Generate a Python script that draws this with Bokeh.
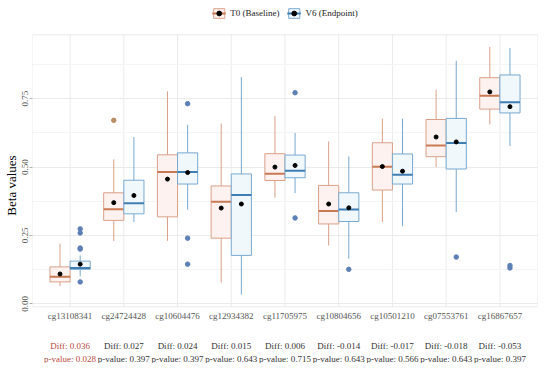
from bokeh.plotting import figure
from bokeh.models import (ColumnDataSource, FactorRange, Range1d, FixedTicker,
                          Legend, LegendItem, NumeralTickFormatter, BoxAnnotation, LabelSet)
from bokeh.transform import dodge
from bokeh.embed import file_html
from bokeh.resources import INLINE

cats = ["cg13108341", "cg24724428", "cg10604476", "cg12934382", "cg11705975",
        "cg10804656", "cg10501210", "cg07553761", "cg16867657"]

# T0 (Baseline)
t0_lo   = [0.065, 0.230, 0.230, 0.077, 0.388, 0.213, 0.299, 0.500, 0.656]
t0_q1   = [0.080, 0.305, 0.318, 0.240, 0.451, 0.292, 0.416, 0.538, 0.712]
t0_med  = [0.099, 0.346, 0.482, 0.373, 0.476, 0.339, 0.501, 0.579, 0.761]
t0_q3   = [0.135, 0.406, 0.545, 0.431, 0.549, 0.433, 0.589, 0.674, 0.827]
t0_hi   = [0.220, 0.528, 0.777, 0.659, 0.687, 0.594, 0.677, 0.783, 0.939]
t0_mean = [0.109, 0.370, 0.456, 0.350, 0.500, 0.365, 0.502, 0.610, 0.775]
t0_out_cat = ["cg24724428"]
t0_out_val = [0.671]

# V6 (Endpoint)
v6_lo   = [0.101, 0.299, 0.344, 0.034, 0.405, 0.165, 0.284, 0.335, 0.577]
v6_q1   = [0.126, 0.329, 0.438, 0.177, 0.461, 0.301, 0.438, 0.493, 0.698]
v6_med  = [0.131, 0.368, 0.482, 0.398, 0.487, 0.345, 0.472, 0.588, 0.737]
v6_q3   = [0.156, 0.452, 0.552, 0.475, 0.544, 0.406, 0.548, 0.678, 0.837]
v6_hi   = [0.177, 0.610, 0.655, 0.829, 0.625, 0.539, 0.677, 0.889, 0.936]
v6_mean = [0.145, 0.396, 0.480, 0.365, 0.506, 0.351, 0.485, 0.592, 0.721]
v6_out_cat = ["cg13108341", "cg13108341", "cg13108341", "cg13108341", "cg13108341",
              "cg10604476", "cg10604476", "cg10604476",
              "cg11705975", "cg11705975", "cg10804656", "cg07553761",
              "cg16867657", "cg16867657"]
v6_out_val = [0.274, 0.259, 0.204, 0.200, 0.080,
              0.732, 0.240, 0.145,
              0.772, 0.314, 0.126, 0.171,
              0.140, 0.131]

diffs   = ["0.036", "0.027", "0.024", "0.015", "0.006", "-0.014", "-0.017", "-0.018", "-0.053"]
pvalues = ["0.028", "0.397", "0.397", "0.643", "0.715", "0.643", "0.566", "0.643", "0.397"]
significant = [True, False, False, False, False, False, False, False, False]

y_ticks = [0, 0.25, 0.5, 0.75]
y_minor = [0.125, 0.375, 0.625, 0.875]

SERIF = "Liberation Serif"
T0_LINE, T0_MED, T0_FILL, T0_PT = "#D9A088", "#C97A55", "#FDF2F0", "#B88E68"
V6_LINE, V6_MED, V6_FILL, V6_PT = "#78A9D0", "#3F7DB3", "#F1F8FC", "#5D80B6"
SIG_COLOR, TEXT_COLOR = "#B84A3E", "#333333"

# panel limits (data) and extra room above / below the panel for legend and texts
PANEL_LO, PANEL_HI = -0.011, 0.984
Y_ROW_CAT, Y_ROW_DIFF, Y_ROW_P = -0.043, -0.155, -0.201

p = figure(width=540, height=363, output_backend="svg", toolbar_location=None,
           x_range=FactorRange(factors=cats, range_padding=0.2, range_padding_units="absolute"),
           y_range=Range1d(-0.2184, 1.0837),
           min_border_left=0, min_border_right=3, min_border_top=7, min_border_bottom=0)

p.background_fill_color = "white"
p.outline_line_color = None

half = 0.1875
bw = 0.375

# panel border
p.add_layout(BoxAnnotation(bottom=PANEL_LO, top=PANEL_HI, fill_alpha=0,
                           line_color="#BDBDBD", line_width=1, level="underlay"))

# vertical grid lines inside the panel only
gsrc = ColumnDataSource(dict(cat=cats, y0=[PANEL_LO] * len(cats), y1=[PANEL_HI] * len(cats)))
p.segment(x0="cat", x1="cat", y0="y0", y1="y1", source=gsrc, line_color="#EBEBEB",
          line_width=1, level="underlay")

def draw(lo, q1, med, q3, hi, mean, off, line, medc, fill):
    src = ColumnDataSource(dict(cat=cats, lo=lo, q1=q1, med=med, q3=q3, hi=hi, mean=mean))
    p.segment(x0=dodge("cat", off, range=p.x_range), x1=dodge("cat", off, range=p.x_range),
              y0="lo", y1="hi", source=src, line_color=line, line_width=1)
    box = p.vbar(x=dodge("cat", off, range=p.x_range), width=bw, bottom="q1", top="q3",
                 source=src, fill_color=fill, line_color=line, line_width=1)
    medr = p.segment(x0=dodge("cat", off - half, range=p.x_range),
                     x1=dodge("cat", off + half, range=p.x_range),
                     y0="med", y1="med", source=src, line_color=medc, line_width=2)
    mr = p.scatter(x=dodge("cat", off, range=p.x_range), y="mean", source=src,
                   size=4, color="black")
    return [box, medr, mr]

r_t0 = draw(t0_lo, t0_q1, t0_med, t0_q3, t0_hi, t0_mean, -half, T0_LINE, T0_MED, T0_FILL)
r_v6 = draw(v6_lo, v6_q1, v6_med, v6_q3, v6_hi, v6_mean, half, V6_LINE, V6_MED, V6_FILL)

o0 = ColumnDataSource(dict(cat=t0_out_cat, val=t0_out_val))
o6 = ColumnDataSource(dict(cat=v6_out_cat, val=v6_out_val))
p.scatter(x=dodge("cat", -half, range=p.x_range), y="val", source=o0, size=4.5, color=T0_PT)
p.scatter(x=dodge("cat", half, range=p.x_range), y="val", source=o6, size=4.5, color=V6_PT)

# horizontal grid
p.xgrid.visible = False
p.ygrid.grid_line_color = "#EBEBEB"
p.ygrid.minor_grid_line_color = "#F4F4F4"
p.ygrid.ticker = FixedTicker(ticks=y_ticks, minor_ticks=y_minor)

# y axis
p.yaxis.ticker = FixedTicker(ticks=y_ticks, minor_ticks=[])
p.yaxis.bounds = (PANEL_LO, PANEL_HI)
p.yaxis.formatter = NumeralTickFormatter(format="0.00")
p.yaxis.major_label_orientation = "vertical"
p.yaxis.axis_label = "Beta values"
p.yaxis.axis_label_text_font = SERIF
p.yaxis.axis_label_text_font_style = "normal"
p.yaxis.axis_label_text_font_size = "13px"
p.yaxis.axis_label_text_color = "black"
p.yaxis.axis_label_standoff = 1
p.yaxis.axis_line_color = None
p.yaxis.major_tick_line_color = "#B3B3B3"
p.yaxis.major_tick_out = 3
p.yaxis.major_tick_in = 0
p.yaxis.minor_tick_line_color = None
p.yaxis.major_label_text_font = SERIF
p.yaxis.major_label_text_font_size = "9px"
p.yaxis.major_label_text_color = "#555555"
p.yaxis.major_label_standoff = 1
p.xaxis.visible = False

# category names under the panel
n = len(cats)
csrc = ColumnDataSource(dict(cat=cats, y=[Y_ROW_CAT] * n))
p.add_layout(LabelSet(x="cat", y="y", text="cat", source=csrc, text_align="center",
                      text_baseline="middle", text_font=SERIF, text_font_size="9px",
                      text_color="#555555"))

# Diff / p-value rows, one label set per colour
for flag, colr in ((True, SIG_COLOR), (False, TEXT_COLOR)):
    idx = [i for i in range(n) if significant[i] == flag]
    s = ColumnDataSource(dict(
        cat=[cats[i] for i in idx],
        ydiff=[Y_ROW_DIFF] * len(idx), yp=[Y_ROW_P] * len(idx),
        diff=["Diff: " + diffs[i] for i in idx],
        pval=["p-value: " + pvalues[i] for i in idx]))
    p.add_layout(LabelSet(x="cat", y="ydiff", text="diff", source=s, text_align="center",
                          text_baseline="middle", text_font=SERIF, text_font_size="9px",
                          text_color=colr))
    p.add_layout(LabelSet(x="cat", y="yp", text="pval", source=s, text_align="center",
                          text_baseline="middle", text_font=SERIF, text_font_size="9px",
                          text_color=colr))

legend = Legend(items=[LegendItem(label="T0 (Baseline)", renderers=r_t0),
                       LegendItem(label="V6 (Endpoint)", renderers=r_v6)],
                orientation="horizontal", location="top_center",
                label_text_font=SERIF, label_text_font_size="9px",
                label_text_color="#222222",
                glyph_width=14, glyph_height=12, spacing=7, padding=0, margin=0,
                label_standoff=5, label_height=12,
                border_line_color=None, background_fill_alpha=0)
p.add_layout(legend, "center")

open("out.html", "w").write(file_html(p, INLINE))
